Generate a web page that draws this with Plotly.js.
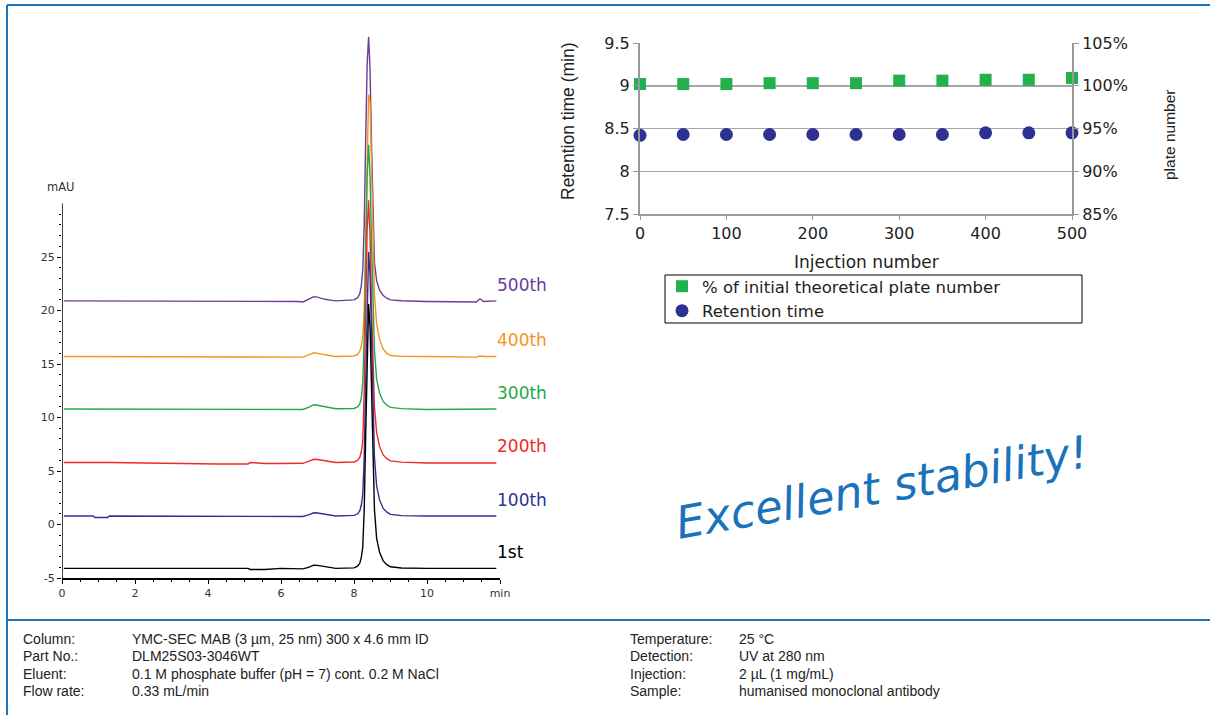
<!DOCTYPE html>
<html>
<head>
<meta charset="utf-8">
<script src="https://cdn.plot.ly/plotly-3.0.1.min.js"></script>
<style>html,body{margin:0;padding:0;background:#fff;}#chart{width:1210px;height:715px;}</style>
</head>
<body>
<div id="chart"></div>
<script>
// ---------- Chromatogram data (min, mAU) ----------
const time = [0.05,0.85,0.9,1.25,1.3,4.25,4.3,5.1,5.15,5.55,6.0,6.45,6.6,6.75,6.9,7.0,7.2,7.4,7.5,8.0,8.1,8.16,8.2,8.24,8.28,8.32,8.36,8.4,8.44,8.48,8.52,8.56,8.62,8.7,8.8,8.9,9.0,9.3,10.0,11.0,11.35,11.45,11.55,11.9];

const sig500 = [20.9,20.9,20.9,20.9,20.9,20.9,20.9,20.9,20.9,20.9,20.9,20.85,20.8,21.05,21.3,21.25,21.05,20.95,20.9,21.0,21.2,21.6,22.3,23.8,28.0,36.0,43.0,45.6,42.5,35.5,28.5,24.5,22.8,21.9,21.4,21.15,21.0,20.92,20.85,20.85,20.8,21.1,20.85,20.9];
const sig400 = [15.7,15.7,15.7,15.7,15.7,15.7,15.7,15.7,15.7,15.7,15.7,15.7,15.65,15.85,16.05,16.0,15.85,15.75,15.7,15.75,15.9,16.2,16.7,17.5,20.0,26.5,34.5,40.2,39.5,33.5,26.0,21.5,18.8,17.3,16.4,16.0,15.8,15.72,15.7,15.7,15.65,15.75,15.7,15.7];
const sig300 = [10.8,10.8,10.8,10.8,10.8,10.8,10.8,10.8,10.8,10.8,10.8,10.8,10.75,10.95,11.2,11.15,11.0,10.88,10.82,10.85,11.0,11.3,11.8,13.2,17.5,25.0,32.5,35.5,32.5,26.5,20.0,16.3,13.6,12.3,11.5,11.15,10.95,10.83,10.75,10.75,10.75,10.8,10.75,10.8];
const sig200 = [5.8,5.8,5.8,5.8,5.8,5.65,5.65,5.65,5.8,5.7,5.7,5.75,5.72,5.9,6.1,6.08,5.95,5.85,5.8,5.85,6.0,6.3,6.8,7.8,12.5,20.0,27.5,30.3,27.0,20.5,15.0,11.0,8.6,7.3,6.5,6.15,5.95,5.83,5.75,5.75,5.75,5.75,5.75,5.75];
const sig100 = [0.8,0.8,0.65,0.65,0.8,0.8,0.8,0.8,0.8,0.8,0.8,0.8,0.75,0.9,1.1,1.08,0.95,0.85,0.8,0.85,1.0,1.3,1.8,2.8,6.3,13.3,21.3,25.5,23.3,17.3,10.8,6.3,3.6,2.3,1.5,1.15,0.95,0.83,0.8,0.8,0.8,0.8,0.8,0.8];
const sig1st = [-4.1,-4.1,-4.1,-4.1,-4.1,-4.1,-4.1,-4.1,-4.2,-4.2,-4.1,-4.1,-4.15,-4.0,-3.8,-3.82,-3.95,-4.05,-4.1,-4.05,-3.9,-3.6,-3.1,-2.1,1.4,8.4,16.4,20.6,18.4,12.4,5.9,1.4,-1.3,-2.6,-3.4,-3.75,-3.95,-4.07,-4.1,-4.1,-4.1,-4.1,-4.1,-4.1];

const runNames = ['500th','400th','300th','200th','100th','1st'];
const runSignals = [sig500, sig400, sig300, sig200, sig100, sig1st];
const runBaselines = [20.9, 15.7, 10.8, 5.8, 0.8, -4.1];
const runColors = ['#6a3d9a','#f7941d','#22a84a','#ee2a24','#2e3192','#000000'];

const xTickVals = [0,2,4,6,8,10,12];
const xTickText = ['0','2','4','6','8','10','min'];
const yTickVals = [-5,0,5,10,15,20,25];
const yTickText = ['-5','0','5','10','15','20','25'];

// ---------- Stability data ----------
const injection = [0,50,100,150,200,250,300,350,400,450,500];
const platePct  = [100.2,100.2,100.2,100.3,100.3,100.3,100.6,100.6,100.7,100.7,100.9];
const retention = [8.42,8.43,8.43,8.43,8.43,8.43,8.43,8.43,8.45,8.45,8.45];
const rtTicks = [7.5,8,8.5,9,9.5];
const rtTickText = ['7.5','8','8.5','9','9.5'];
const pctTicks = [85,90,95,100,105];
const pctTickText = ['85%','90%','95%','100%','105%'];

const W = 1210, H = 715;
const px = v => v / W;
const py = v => 1 - v / H;

const traces = [];
runSignals.forEach((s, i) => {
  traces.push({
    x: time, y: s, type: 'scatter', mode: 'lines', name: runNames[i],
    line: {color: runColors[i], width: 1.4}, showlegend: false,
    xaxis: 'x', yaxis: 'y', hoverinfo: 'skip'
  });
});
traces.push({
  x: injection, y: platePct, type: 'scatter', mode: 'markers',
  name: '% of initial theoretical plate number',
  marker: {symbol: 'square', size: 12, color: '#22b14c'},
  xaxis: 'x2', yaxis: 'y3', cliponaxis: false
});
traces.push({
  x: injection, y: retention, type: 'scatter', mode: 'markers',
  name: 'Retention time',
  marker: {symbol: 'circle', size: 13, color: '#2e3192'},
  xaxis: 'x2', yaxis: 'y2', cliponaxis: false
});

const minorY = [];
for (let v = -4; v < 30; v++) if (v % 5 !== 0) minorY.push(v);

const wide = 'DejaVu Sans, Verdana, sans-serif';
const arial = 'Liberation Sans, Arial, sans-serif';
const tickFontL = {family: wide, size: 11, color: '#333'};
const tickFontR = {family: wide, size: 16, color: '#222'};

const annotations = [];
runNames.forEach((n, i) => {
  annotations.push({
    xref: 'paper', yref: 'y', x: px(495), y: runBaselines[i] + 1.5,
    xanchor: 'left', yanchor: 'middle', text: n, showarrow: false,
    font: {family: wide, size: 17, color: runColors[i]}
  });
});
annotations.push({xref:'paper', yref:'paper', x: px(61), y: py(187), text:'mAU', showarrow:false,
  xanchor:'center', yanchor:'middle', font: {family: wide, size: 11.5, color:'#333'}});
annotations.push({xref:'paper', yref:'paper', x: px(568), y: py(121), text:'Retention time (min)', textangle:-90,
  showarrow:false, xanchor:'center', yanchor:'middle', font:{family: arial, size:17.5, color:'#222'}});
annotations.push({xref:'paper', yref:'paper', x: px(1170), y: py(135), text:'plate number', textangle:-90,
  showarrow:false, xanchor:'center', yanchor:'middle', font:{family: arial, size:15.5, color:'#222'}});
annotations.push({xref:'paper', yref:'paper', x: px(866), y: py(262), text:'Injection number',
  showarrow:false, xanchor:'center', yanchor:'middle', font:{family: wide, size: 17, color:'#222'}});
annotations.push({xref:'paper', yref:'paper', x: px(882), y: py(487), text:'Excellent stability!', textangle:-10,
  showarrow:false, xanchor:'center', yanchor:'middle',
  font:{family:'DejaVu Sans, sans-serif', size:45, color:'#1a72bb', style:'italic'}});

const footL = [['Column:','YMC-SEC MAB (3 µm, 25 nm) 300 x 4.6 mm ID'],['Part No.:','DLM25S03-3046WT'],
  ['Eluent:','0.1 M phosphate buffer (pH = 7) cont. 0.2 M NaCl'],['Flow rate:','0.33 mL/min']];
const footR = [['Temperature:','25 °C'],['Detection:','UV at 280 nm'],['Injection:','2 µL (1 mg/mL)'],
  ['Sample:','humanised monoclonal antibody']];
const footY = [639, 656, 674, 691];
const footFont = {family: arial, size: 14, color: '#222'};
footL.forEach((r, i) => {
  annotations.push({xref:'paper', yref:'paper', x:px(21), y:py(footY[i]), text:r[0], showarrow:false, xanchor:'left', yanchor:'middle', font:footFont});
  annotations.push({xref:'paper', yref:'paper', x:px(130), y:py(footY[i]), text:r[1], showarrow:false, xanchor:'left', yanchor:'middle', font:footFont});
});
footR.forEach((r, i) => {
  annotations.push({xref:'paper', yref:'paper', x:px(628), y:py(footY[i]), text:r[0], showarrow:false, xanchor:'left', yanchor:'middle', font:footFont});
  annotations.push({xref:'paper', yref:'paper', x:px(737), y:py(footY[i]), text:r[1], showarrow:false, xanchor:'left', yanchor:'middle', font:footFont});
});

const frame = '#1b75bc';
const shapes = [
  {type:'line', xref:'paper', yref:'paper', x0:px(7), x1:1, y0:py(5), y1:py(5), line:{color:frame, width:2}},
  {type:'line', xref:'paper', yref:'paper', x0:px(7), x1:px(7), y0:py(5), y1:0, line:{color:frame, width:2}},
  {type:'line', xref:'paper', yref:'paper', x0:px(7), x1:1, y0:py(620), y1:py(620), line:{color:frame, width:2}},
  // chromatogram y axis line (drawn only up to 30 mAU)
  {type:'line', xref:'x', yref:'y', x0:0, x1:0, y0:-5, y1:30, line:{color:'#000', width:1.5}},
  // legend box
  {type:'rect', xref:'paper', yref:'paper', x0:px(665), x1:px(1082), y0:py(275), y1:py(323), line:{color:'#000', width:1}}
];

const layout = {
  width: W, height: H,
  margin: {l:0, r:0, t:0, b:0},
  paper_bgcolor: '#fff', plot_bgcolor: 'rgba(0,0,0,0)',
  showlegend: true,
  legend: {x: px(662), y: py(269), xanchor:'left', yanchor:'top', bgcolor:'rgba(0,0,0,0)',
    font:{family: wide, size:16.5, color:'#222'}, itemwidth:30, tracegroupgap:0},
  xaxis: {domain:[px(62), px(500)], range:[0,12], anchor:'y',
    tickmode:'array', tickvals:xTickVals, ticktext:xTickText, ticks:'outside', ticklen:4, tickcolor:'#000',
    minor:{tickmode:'linear', tick0:0, dtick:0.5, ticks:'outside', ticklen:2, tickcolor:'#000'},
    showline:true, linecolor:'#000', linewidth:1.5, showgrid:false, zeroline:false, tickfont:tickFontL},
  yaxis: {domain:[py(578), py(11)], range:[-5,48], anchor:'x',
    tickmode:'array', tickvals:yTickVals, ticktext:yTickText, ticks:'outside', ticklen:4, tickcolor:'#000',
    minor:{tickmode:'array', tickvals:minorY, ticks:'outside', ticklen:2, tickcolor:'#000'},
    showline:false, showgrid:false, zeroline:false, tickfont:tickFontL},
  xaxis2: {domain:[px(640), px(1072)], range:[0,500], anchor:'y2',
    tickmode:'linear', tick0:0, dtick:100, ticks:'outside', ticklen:4, tickcolor:'#999',
    showline:true, linecolor:'#999', linewidth:2, showgrid:false, zeroline:false, tickfont:tickFontR},
  yaxis2: {domain:[py(214), py(43)], range:[7.5,9.5], anchor:'x2',
    tickmode:'array', tickvals:rtTicks, ticktext:rtTickText,
    ticks:'outside', ticklen:5, tickcolor:'#999',
    showline:true, linecolor:'#999', linewidth:2, showgrid:true, gridcolor:'#a6a6a6', gridwidth:1.5,
    zeroline:false, tickfont:tickFontR},
  yaxis3: {domain:[py(214), py(43)], range:[85,105], overlaying:'y2', side:'right', anchor:'x2',
    tickmode:'array', tickvals:pctTicks, ticktext:pctTickText,
    ticks:'outside', ticklen:5, tickcolor:'#999',
    showline:true, linecolor:'#999', linewidth:2, showgrid:false, zeroline:false, tickfont:tickFontR},
  annotations: annotations,
  shapes: shapes
};

Plotly.newPlot('chart', traces, layout, {displayModeBar:false, staticPlot:true});
</script>
</body>
</html>
